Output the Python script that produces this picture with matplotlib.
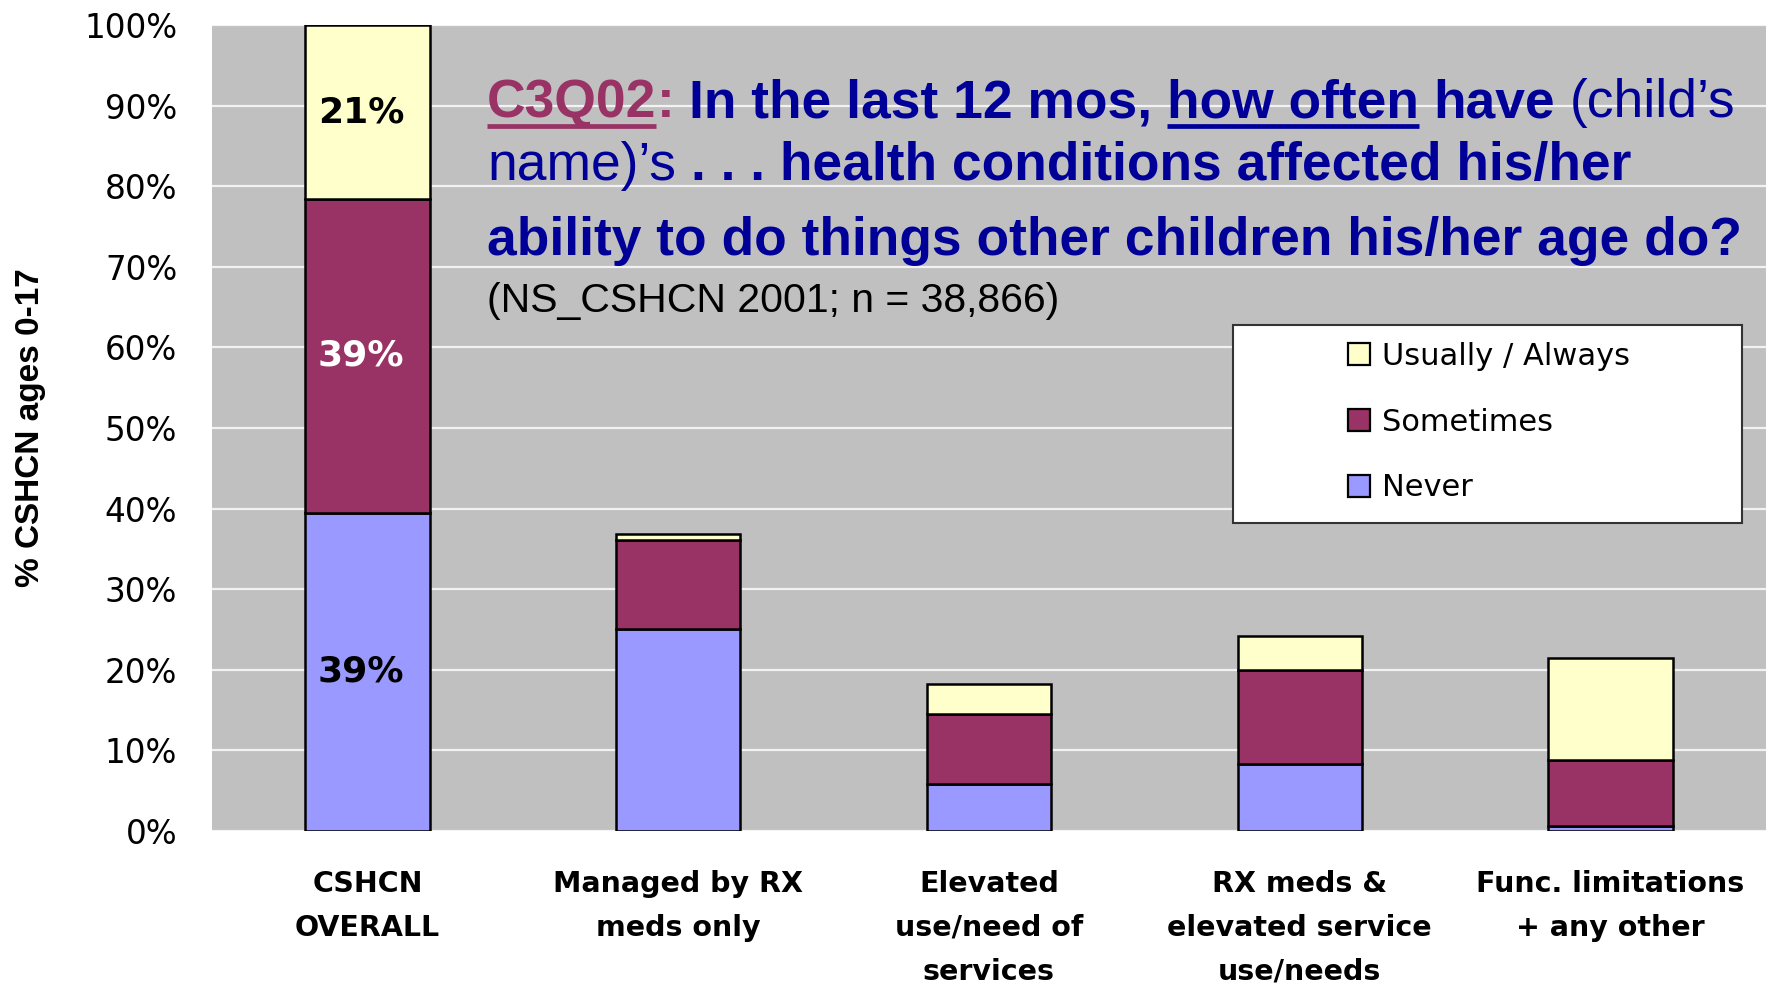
import matplotlib
matplotlib.use("Agg")
import matplotlib.pyplot as plt
from matplotlib.patches import Patch, Rectangle
from matplotlib.lines import Line2D
import numpy as np

# ---------------- data ----------------
categories = ["CSHCN\nOVERALL", "Managed by RX\nmeds only", "Elevated\nuse/need of\nservices",
              "RX meds &\nelevated service\nuse/needs", "Func. limitations\n+ any other"]
never = [39.5, 25.1, 5.8, 8.3, 0.6]
sometimes = [38.9, 11.0, 8.7, 11.7, 8.2]
usually = [21.6, 0.7, 3.7, 4.2, 12.7]
series_names = ["Never", "Sometimes", "Usually / Always"]
series_colors = ["#9999FF", "#993366", "#FFFFCC"]
yticks = list(range(0, 101, 10))
ytick_labels = [f"{v}%" for v in yticks]
first_bar_labels = ["39%", "39%", "21%"]
first_bar_label_colors = ["black", "white", "black"]

# ---------------- figure ----------------
W, H = 1766, 983
fig = plt.figure(figsize=(W / 100, H / 100), dpi=100)
fig.patch.set_facecolor("white")

L, T, B = 212, 25, 831
ax = fig.add_axes([L / W, 1 - B / H, (W - L) / W, (B - T) / H])
ax.set_facecolor("#C0C0C0")
ax.set_xlim(-0.5, 4.5)
ax.set_ylim(0, 100)
for s in ax.spines.values():
    s.set_visible(False)
ax.set_axisbelow(True)
ax.yaxis.grid(True, color="#F2F2F2", lw=1.6)

x = np.arange(len(categories))
bw = 0.4
series = [never, sometimes, usually]
bottom = np.zeros(len(categories))
for vals, name, col in zip(series, series_names, series_colors):
    ax.bar(x, vals, bw, bottom=bottom, color=col, edgecolor="black", lw=1.8, label=name, zorder=3)
    bottom = bottom + np.array(vals)

# labels inside first bar
cum = 0
for vals, lab, c in zip(series, first_bar_labels, first_bar_label_colors):
    ax.text(-0.02, cum + vals[0] / 2, lab, ha="center", va="center", color=c,
            fontsize=26, fontweight="bold", family="DejaVu Sans", zorder=5)
    cum += vals[0]

ax.set_yticks(yticks)
ax.set_yticklabels(ytick_labels, fontsize=23.5, family="DejaVu Sans", color="black")
ax.set_xticks(x)
ax.set_xticklabels(categories, fontsize=20.5, fontweight="bold", family="DejaVu Sans",
                   linespacing=1.72)
ax.tick_params(axis="y", length=0, pad=25)
ax.tick_params(axis="x", length=0, pad=28)

# y-axis label
fig.text(31 / W, 1 - 428 / H, "% CSHCN ages 0-17", rotation=90, ha="center", va="center",
         fontsize=24, fontweight="bold", family="Liberation Sans")

# legend
fig.add_artist(Rectangle((1233 / W, 1 - 523 / H), (1742 - 1233) / W, (523 - 325) / H,
                         transform=fig.transFigure, facecolor="white", edgecolor="#333333",
                         lw=1.5, zorder=4))
handles = [Patch(facecolor=c, edgecolor="black", lw=1.6) for c in series_colors][::-1]
labels = series_names[::-1]
leg = fig.legend(handles, labels, loc="upper left", bbox_to_anchor=(1348 / W, 1 - 342 / H),
                 bbox_transform=fig.transFigure, frameon=False,
                 prop={"family": "DejaVu Sans", "size": 22},
                 handlelength=0.72, handleheight=0.72, handletextpad=0.4,
                 labelspacing=1.2, borderpad=0, borderaxespad=0)
leg.set_zorder(6)

# ---------------- title runs ----------------
renderer = fig.canvas.get_renderer()
NAVY = "#000099"
MAROON = "#993366"
TS = 38.4
SS = 29.5


def draw_runs(runs, x0, ybase, size):
    xpos = x0
    size_px = size * 100 / 72
    for text, weight, color, underline, gap in runs:
        xpos += gap * size_px
        t = fig.text(xpos / W, 1 - ybase / H, text, fontsize=size, fontweight=weight,
                     color=color, family="Liberation Sans", ha="left", va="baseline", zorder=7)
        bb = t.get_window_extent(renderer)
        if underline:
            yu = 1 - (ybase + 9) / H
            fig.add_artist(Line2D([bb.x0 / W, bb.x1 / W], [yu, yu], transform=fig.transFigure,
                                  color=color, lw=3.4, solid_capstyle="butt", zorder=7))
        xpos = bb.x1


SP = 0.278
draw_runs([("C3Q02", "bold", MAROON, True, 0),
           (":", "bold", MAROON, False, 0),
           ("In the last 12 mos,", "bold", NAVY, False, SP),
           ("how often", "bold", NAVY, True, SP),
           ("have", "bold", NAVY, False, SP),
           ("(child\u2019s", "normal", NAVY, False, SP)], 487, 117, TS)
draw_runs([("name)\u2019s", "normal", NAVY, False, 0),
           (". . . health conditions affected his/her", "bold", NAVY, False, SP)], 487, 180, TS)
draw_runs([("ability to do things other children his/her age do?", "bold", NAVY, False, 0)],
          487, 255, TS)
draw_runs([("(NS_CSHCN 2001; n = 38,866)", "normal", "black", False, 0)], 487, 312, SS)

fig.savefig("out.png", dpi=100, facecolor="white")
